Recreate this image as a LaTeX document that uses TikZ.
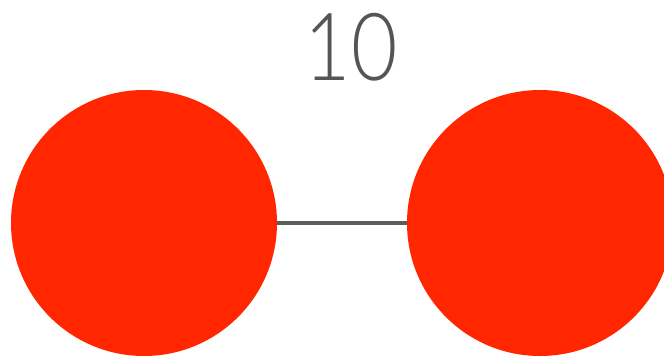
\documentclass[tikz,border=0pt]{standalone}
\usepackage{fontspec}
\newfontfamily\rotulo[FakeStretch=0.85]{Lato Light}
\usepackage{xcolor}
\usepackage{tikz}
\usetikzlibrary{positioning}
\definecolor{vermelho}{HTML}{FF2600}
\definecolor{cinza}{HTML}{5A5E5D}
\definecolor{texto}{HTML}{555555}
\tikzset{
    vert/.style  = {circle, fill=vermelho, draw=none, inner sep=0pt, minimum size=266pt},
    lig/.style   = {draw=cinza, line width=4.5pt},
    peso/.style  = {text=texto, inner sep=0pt, font=\rotulo\fontsize{94}{94}\selectfont},
}
\begin{document}
\begin{tikzpicture}[x=1pt, y=-1pt]
        \clip (0,0) rectangle (664,357);
        \fill[white] (0,0) rectangle (664,357);
        \node[vert] (A) at (144,223) {};
        \node[vert] (B) at (540,223) {};
        \node[peso] (w) at (351,47) {10};
        \draw[lig] (A) -- (B);
    \end{tikzpicture}
\end{document}
